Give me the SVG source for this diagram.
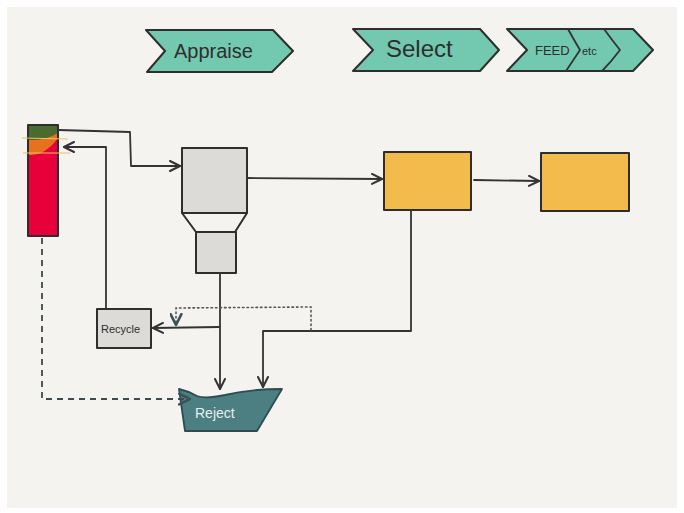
<svg xmlns="http://www.w3.org/2000/svg" width="684" height="513" viewBox="0 0 684 513">
<defs>
<style>
.ln{fill:none;stroke:#333;stroke-width:1.8;stroke-linejoin:round;stroke-linecap:round}
.box{stroke:#2e2e2e;stroke-width:2;stroke-linejoin:round}
.chev{fill:#72c9af;stroke:#2e2e2e;stroke-width:2;stroke-linejoin:round}
.hand{font-family:"Liberation Sans","DejaVu Sans",sans-serif;fill:#2e2e2e}
.gray{fill:#dcdbd8}
.yel{fill:#f2bb4c}
</style>
<marker id="ah" viewBox="0 0 12 12" refX="11" refY="6" markerWidth="12" markerHeight="12" markerUnits="userSpaceOnUse" orient="auto">
<path d="M1,1 L11,6 L1,11" fill="none" stroke="#333" stroke-width="2" stroke-linecap="round" stroke-linejoin="round"/>
</marker>
<marker id="ahs" viewBox="0 0 12 12" refX="11" refY="6" markerWidth="13" markerHeight="13" markerUnits="userSpaceOnUse" orient="auto">
<path d="M1,1 L11,6 L1,11" fill="none" stroke="#3d5257" stroke-width="2.4" stroke-linecap="round" stroke-linejoin="round"/>
</marker>
</defs>
<rect x="0" y="0" width="684" height="513" fill="#ffffff"/>
<rect x="7" y="7" width="670" height="501" fill="#f4f3f0"/>

<g id="appraise">
<path class="chev" d="M146,30 L273,30 L293,51 L272,72 L147,72 L165,51 Z"/>
<text class="hand" x="174" y="58" font-size="20">Appraise</text>
</g>
<g id="select">
<path class="chev" d="M353,29 L480,29 L499,50 L480,71 L353,71 L373,50 Z"/>
<text class="hand" x="386" y="57" font-size="24">Select</text>
</g>
<g id="feed">
<path class="chev" d="M507,29 L633,29 L653,50 L633,71 L507,71 L527,50 Z"/>
<path class="ln" d="M568,29 Q574,40 580,50 Q572,62 566,71"/>
<path class="ln" d="M604,29 Q612,40 620,50 Q611,62 602,71"/>
<text class="hand" x="535" y="55" font-size="13">FEED</text>
<text class="hand" x="582" y="55" font-size="11">etc</text>
</g>

<g id="column">
<rect x="28" y="125" width="30" height="111" fill="#e8003a"/>
<path d="M28,155 Q45,156 58,138 L58,125 L28,125 Z" fill="#e6711f"/>
<path d="M28,140 Q45,141 58,133 L58,125 L28,125 Z" fill="#4a6b30"/>
<rect x="28" y="125" width="30" height="111" fill="none" class="box"/>
<line x1="22" y1="138" x2="68" y2="139" stroke="#f0c060" stroke-width="1.2"/>
<line x1="23" y1="153" x2="70" y2="153" stroke="#f0c060" stroke-width="1.2"/>
</g>

<g id="hopper">
<rect class="box gray" x="182" y="148" width="65" height="65"/>
<path class="box" d="M182,213 L196,232 L235,232 L247,213" fill="none"/>
<rect class="box gray" x="196" y="232" width="40" height="41"/>
</g>

<g id="select-box">
<rect class="box yel" x="384" y="152" width="87" height="58"/>
</g>
<g id="feed-box">
<rect class="box yel" x="541" y="153" width="88" height="58"/>
</g>

<g id="recycle">
<rect class="box gray" x="97" y="309" width="54" height="39"/>
<text class="hand" x="101" y="333" font-size="11">Recycle</text>
</g>

<g id="reject">
<path d="M179,389 Q188,391 197,396 Q205,399 225,395 Q250,389 282,389 L257,431 L185,431 Z" fill="#4b7f82" stroke="#2e4d52" stroke-width="1.8" stroke-linejoin="round"/>
<text x="195" y="418" font-size="14" font-family="Liberation Sans,DejaVu Sans,sans-serif" fill="#e8f0ee">Reject</text>
</g>

<g id="connectors">
<path class="ln" d="M58,130 L130,132 L131,166 L180,166" marker-end="url(#ah)"/>
<path class="ln" d="M106,309 L106,147 L64,147" marker-end="url(#ah)"/>
<path class="ln" d="M247,178 L382,179" marker-end="url(#ah)"/>
<path class="ln" d="M474,180 L539,181" marker-end="url(#ah)"/>
<path class="ln" d="M411,210 L411,331 L263,331 L263,387" marker-end="url(#ah)"/>
<path class="ln" d="M220,273 L220,389" marker-end="url(#ah)"/>
<path class="ln" d="M219,327 L153,328" marker-end="url(#ah)"/>
<path d="M311,330 L311,307 L176,308 L176,325" fill="none" stroke="#555" stroke-width="1.6" stroke-dasharray="1.5,3" stroke-linecap="round" marker-end="url(#ahs)"/>
<path d="M42,238 L42,399 L190,399" fill="none" stroke="#3d4a50" stroke-width="1.8" stroke-dasharray="6,5" marker-end="url(#ahs)"/>
</g>
</svg>
